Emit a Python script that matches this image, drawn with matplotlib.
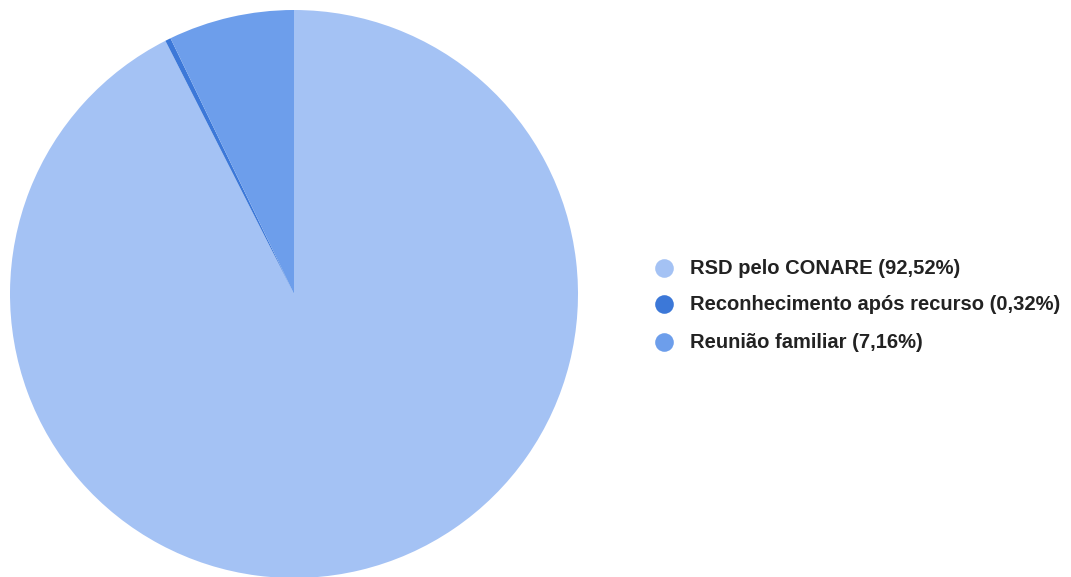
import matplotlib.pyplot as plt

labels = ['RSD pelo CONARE', 'Reconhecimento após recurso', 'Reunião familiar']
values = [92.52, 0.32, 7.16]
colors = ['#a4c2f4', '#3c78d8', '#6d9eeb']

W, H = 1071, 577
fig = plt.figure(figsize=(W / 100, H / 100), dpi=100)

# pie: centre at (294, 294) px from top-left, radius 284 px
cx, cy, r = 294, 294, 284
ax = fig.add_axes([(cx - r) / W, (H - cy - r) / H, 2 * r / W, 2 * r / H])
ax.pie(values, colors=colors, startangle=90, counterclock=False, radius=1,
       wedgeprops=dict(linewidth=0))
ax.set_xlim(-1, 1)
ax.set_ylim(-1, 1)
ax.set_aspect('equal')
ax.axis('off')

# legend with circle markers
lax = fig.add_axes([0, 0, 1, 1])
lax.set_xlim(0, W)
lax.set_ylim(H, 0)
lax.axis('off')
rows_y = [268, 304, 342]
for lab, val, col, y in zip(labels, values, colors, rows_y):
    lax.scatter([664], [y], s=180, color=col, linewidths=0)
    txt = f"{lab} ({val:.2f}%)".replace('.', ',')
    lax.text(690, y, txt, fontsize=14.5, fontweight='bold', family='Liberation Sans',
             va='center', ha='left', color='#222222')

fig.savefig('out.png', dpi=100)
